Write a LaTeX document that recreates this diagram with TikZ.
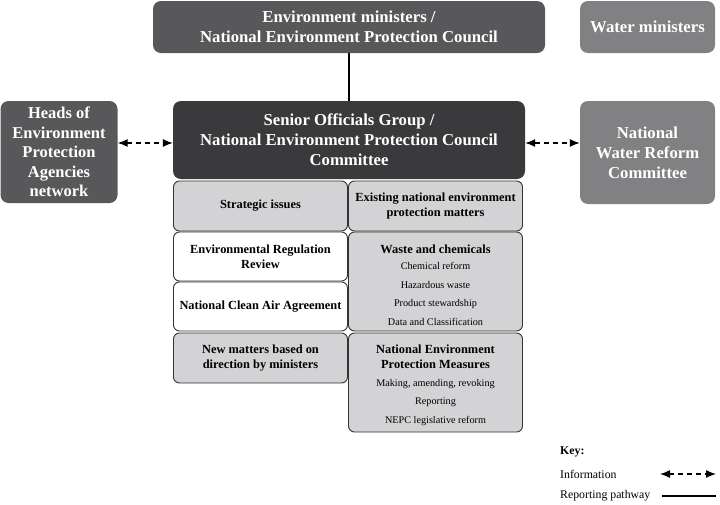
\documentclass[tikz,border=0pt]{standalone}
\usepackage{fontspec}
\setmainfont{Liberation Serif}
\usetikzlibrary{arrows.meta, positioning}
\definecolor{envgrey}{HTML}{58585A}
\definecolor{sogblack}{HTML}{3A3A3C}
\definecolor{watergrey}{HTML}{818184}
\definecolor{topicgrey}{HTML}{D3D3D5}
\newcommand{\topicitem}{\fontsize{10.2}{18.5}\selectfont\mdseries}

\begin{document}
\begin{tikzpicture}[x=1pt, y=-1pt,
  bigbox/.style={rounded corners=8pt, text=white, font=\rmfamily\fontsize{16.7}{20}\selectfont\bfseries, align=center, inner sep=0pt},
  topicbox/.style={draw=black!80, line width=0.9pt, rounded corners=6pt, align=center, inner sep=0pt, minimum width=174pt, font=\rmfamily\fontsize{12.4}{15}\selectfont\bfseries},
  topictext/.style={align=center, inner sep=0pt, font=\rmfamily\fontsize{12.4}{15}\selectfont\bfseries},
  infoarrow/.style={line width=1.3pt, dash pattern=on 5pt off 4pt, {Latex[length=10pt,width=8pt]}-{Latex[length=10pt,width=8pt]}},
  reportline/.style={line width=1.3pt}
]
  \useasboundingbox (0,0) rectangle (720,504);

  % top row
  \node[bigbox, fill=envgrey, minimum width=392pt, minimum height=52pt] (ministers) at (349,27)
    {Environment ministers /\\National Environment Protection Council};
  \node[bigbox, fill=watergrey, minimum width=135pt, minimum height=52pt] (water) at (647.5,27)
    {Water ministers};

  % middle row
  \node[bigbox, fill=envgrey, minimum width=117pt, minimum height=102pt, font=\rmfamily\fontsize{16.5}{19.6}\selectfont\bfseries] (heads) at (59,152)
    {Heads of\\Environment\\Protection\\Agencies\\network};
  \node[bigbox, fill=sogblack, minimum width=352pt, minimum height=78pt] (sog) at (349,140)
    {Senior Officials Group /\\National Environment Protection Council\\Committee};
  \node[bigbox, fill=watergrey, minimum width=135pt, minimum height=103pt] (nwrc) at (647.5,152.5)
    {National\\Water Reform\\Committee};

  % topics, left column
  \node[topicbox, fill=topicgrey, minimum height=50pt] (strategic) at (260.5,206) {Strategic issues};
  \node[topicbox, fill=white, minimum height=49pt] (regreview) at (260.5,256.5) {Environmental Regulation\\Review};
  \node[topicbox, fill=white, minimum height=49pt] (cleanair) at (260.5,306.5) {National Clean Air Agreement};
  \node[topicbox, fill=topicgrey, minimum height=50pt] (newmatters) at (260.5,358) {New matters based on\\direction by ministers};

  % topics, right column
  \node[topicbox, fill=topicgrey, minimum height=50pt] (existing) at (435.5,206) {Existing national environment\\protection matters};
  \node[topicbox, fill=topicgrey, minimum height=99pt] (waste) at (435.5,281.5) {};
  \node[topictext] (wastetext) at ([yshift=-3.5pt]waste.center)
    {Waste and chemicals\\[1.5pt]
     \topicitem Chemical reform\\[3.5pt]\topicitem Hazardous waste\\[3.5pt]\topicitem Product stewardship\\[3.5pt]\topicitem Data and Classification};
  \node[topicbox, fill=topicgrey, minimum height=99pt] (nepm) at (435.5,382.5) {};
  \node[topictext] (nepmtext) at ([yshift=-3pt]nepm.center)
    {National Environment\\Protection Measures\\[2.5pt]
     \topicitem Making, amending, revoking\\[3.5pt]\topicitem Reporting\\[3.5pt]\topicitem NEPC legislative reform};

  % connectors
  \draw[reportline] (ministers.south) -- (sog.north);
  \draw[infoarrow] (heads.east |- 0,143) -- (sog.west |- 0,143);
  \draw[infoarrow] (sog.east |- 0,143) -- (nwrc.west |- 0,143);

  % key
  \node[anchor=west, font=\rmfamily\fontsize{11.8}{13}\selectfont\bfseries, inner sep=0pt] (keytitle) at (560,452) {Key:};
  \node[anchor=west, font=\rmfamily\fontsize{11.8}{13}\selectfont, inner sep=0pt] (keyinfo) at (560,474) {Information};
  \node[anchor=west, font=\rmfamily\fontsize{11.8}{13}\selectfont, inner sep=0pt] (keyreport) at (560,496) {Reporting pathway};
  \coordinate (infoa) at (660,474);
  \coordinate (infob) at (716,474);
  \coordinate (repa) at (662,496);
  \coordinate (repb) at (716,496);
  \draw[infoarrow] (infoa) -- (infob);
  \draw[reportline] (repa) -- (repb);
\end{tikzpicture}
\end{document}
